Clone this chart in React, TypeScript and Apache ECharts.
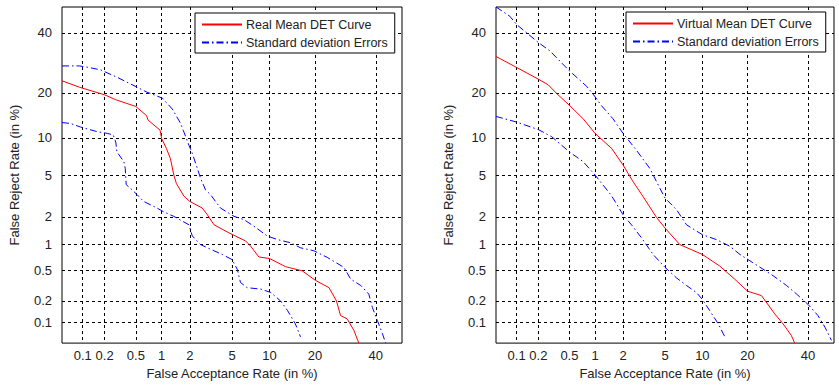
import React, { useEffect, useRef } from 'react';
import * as echarts from 'echarts';

// Tick marks (percent) and their labels, shared by both axes of both panels
const tickPercents = [0.1, 0.2, 0.5, 1, 2, 5, 10, 20, 40];
const tickLabels = ['0.1', '0.2', '0.5', '1', '2', '5', '10', '20', '40'];
const axisMinPercent = 0.05;
const axisMaxPercent = 50;

// Left panel: Real Mean DET Curve (false acceptance %, false reject %)
const realMeanFA = [0.05, 0.09, 0.2, 0.28, 0.5, 0.67, 0.7, 0.96, 1.0, 1.13, 1.25, 1.36, 1.45, 1.74, 2.0, 2.66, 2.98, 3.44, 4.7, 6.5, 7.15, 8.3, 10, 13.0, 16.7, 20.2, 24.0, 26.3, 27.6, 29.8, 32.1, 33.8];
const realMeanFR = [23.5, 21.6, 19.5, 18.2, 16.5, 14.4, 13.4, 11.4, 9.9, 8.3, 6.9, 5.0, 4.2, 3.2, 2.85, 2.45, 2.1, 1.65, 1.35, 1.1, 0.96, 0.72, 0.69, 0.55, 0.49, 0.37, 0.3, 0.2, 0.126, 0.113, 0.077, 0.05];

const realUpperFA = [0.05, 0.09, 0.122, 0.177, 0.29, 0.41, 0.52, 0.68, 0.78, 1.02, 1.31, 1.61, 1.71, 1.96, 2.12, 2.38, 2.56, 2.86, 3.2, 3.95, 5.2, 6.3, 7.6, 9.6, 11.4, 14.0, 16.3, 19.7, 23.5, 28.7, 31.0, 34.5, 37.4, 38.7, 40.6, 42.5, 43.7];
const realUpperFR = [28.2, 28.2, 27.7, 26.9, 24.6, 22.8, 21.6, 20.2, 19.7, 18.6, 15.9, 12.7, 11.4, 8.8, 7.6, 5.7, 4.7, 3.67, 3.3, 2.45, 2.02, 1.87, 1.59, 1.25, 1.14, 1.05, 0.92, 0.85, 0.71, 0.54, 0.385, 0.32, 0.247, 0.164, 0.107, 0.069, 0.05];

const realLowerFA = [0.05, 0.067, 0.093, 0.16, 0.217, 0.26, 0.28, 0.29, 0.355, 0.37, 0.38, 0.45, 0.52, 0.62, 0.89, 1.06, 1.36, 1.68, 1.96, 2.12, 2.56, 3.44, 4.1, 5.0, 5.55, 5.9, 6.7, 8.6, 10.2, 12.0, 13.4, 15.1, 16.3];
const realLowerFR = [12.9, 12.7, 12.0, 11.1, 10.8, 10.5, 9.3, 7.8, 6.5, 5.7, 4.1, 3.67, 3.3, 2.85, 2.45, 2.24, 2.02, 1.8, 1.65, 1.25, 1.0, 0.85, 0.77, 0.67, 0.51, 0.35, 0.3, 0.287, 0.26, 0.2, 0.148, 0.096, 0.062];

// Right panel: Virtual Mean DET Curve
const virtualMeanFA = [0.05, 0.1, 0.2, 0.27, 0.345, 0.505, 0.73, 1.0, 1.52, 2.0, 2.52, 3.15, 4.2, 4.98, 6.67, 10, 13.3, 16.7, 20, 24.0, 28.2, 31.0, 33.9, 35.1];
const virtualMeanFR = [31.4, 27.7, 24.0, 22.3, 19.9, 16.7, 13.7, 10.8, 8.3, 6.1, 4.37, 3.18, 1.97, 1.53, 1.0, 0.77, 0.56, 0.385, 0.27, 0.236, 0.133, 0.096, 0.065, 0.05];

const virtualUpperFA = [0.05, 0.08, 0.1, 0.2, 0.283, 0.5, 0.8, 0.95, 1.18, 1.57, 2.0, 2.72, 3.65, 4.5, 5.0, 6.26, 7.55, 10, 12.6, 15.5, 18.0, 21.5, 27.7, 32.2, 35.8, 40, 43.8, 46.5, 49.0];
const virtualUpperFR = [50, 46.4, 43.2, 36.4, 33.4, 26.6, 21.9, 19.7, 16.7, 13.7, 10.8, 8.05, 5.7, 3.8, 3.07, 2.36, 1.65, 1.29, 1.14, 0.96, 0.77, 0.615, 0.425, 0.32, 0.247, 0.18, 0.126, 0.086, 0.055];

const virtualLowerFA = [0.05, 0.1, 0.2, 0.3, 0.5, 0.73, 1.0, 1.45, 1.57, 2.0, 2.43, 3.05, 3.91, 5.0, 6.26, 7.55, 9.0, 10, 11.3, 13.0, 14.4];
const virtualLowerFR = [14.2, 13.0, 11.5, 10.2, 7.8, 6.5, 5.0, 3.4, 3.07, 2.1, 1.65, 1.19, 0.77, 0.54, 0.4, 0.32, 0.26, 0.21, 0.148, 0.096, 0.062];

// Inverse normal CDF (Acklam) for the DET (normal deviate) scale
function probit(p: number): number {
  const a = [-3.969683028665376e1, 2.209460984245205e2, -2.759285104469687e2, 1.38357751867269e2, -3.066479806614716e1, 2.506628277459239];
  const b = [-5.447609879822406e1, 1.615858368580409e2, -1.556989798598866e2, 6.680131188771972e1, -1.328068155288572e1];
  const c = [-7.784894002430293e-3, -3.223964580411365e-1, -2.400758277161838, -2.549732539343734, 4.374664141464968, 2.938163982698783];
  const d = [7.784695709041462e-3, 3.224671290700398e-1, 2.445134137142996, 3.754408661907416];
  const pLow = 0.02425;
  const pHigh = 1 - pLow;
  if (p <= 0) return -10;
  if (p >= 1) return 10;
  if (p < pLow) {
    const q = Math.sqrt(-2 * Math.log(p));
    return (((((c[0] * q + c[1]) * q + c[2]) * q + c[3]) * q + c[4]) * q + c[5]) / ((((d[0] * q + d[1]) * q + d[2]) * q + d[3]) * q + 1);
  }
  if (p <= pHigh) {
    const q = p - 0.5;
    const r = q * q;
    return ((((((a[0] * r + a[1]) * r + a[2]) * r + a[3]) * r + a[4]) * r + a[5]) * q) / (((((b[0] * r + b[1]) * r + b[2]) * r + b[3]) * r + b[4]) * r + 1);
  }
  const q = Math.sqrt(-2 * Math.log(1 - p));
  return -(((((c[0] * q + c[1]) * q + c[2]) * q + c[3]) * q + c[4]) * q + c[5]) / ((((d[0] * q + d[1]) * q + d[2]) * q + d[3]) * q + 1);
}

const toDev = (pct: number) => probit(pct / 100);
const pairs = (fa: number[], fr: number[]) => fa.map((v, i) => [toDev(v), toDev(fr[i])]);

const FONT = '"Liberation Sans", Arial, Helvetica, sans-serif';
const TEXT_COLOR = '#222';

export default function App() {
  const ref = useRef<HTMLDivElement>(null);

  useEffect(() => {
    if (!ref.current) return;
    const chart = echarts.init(ref.current, undefined, { renderer: 'svg' });
    const tickValues = tickPercents.map(toDev);
    const labelFor = (v: number) => {
      let best = 0;
      let bd = Infinity;
      tickValues.forEach((t, i) => {
        const dd = Math.abs(t - v);
        if (dd < bd) { bd = dd; best = i; }
      });
      return bd < 1e-6 ? tickLabels[best] : '';
    };
    const axisMin = toDev(axisMinPercent);
    const axisMax = toDev(axisMaxPercent);

    const makeAxis = (gridIndex: number, name: string, isY: boolean) => ({
      type: 'value',
      gridIndex,
      min: axisMin,
      max: axisMax,
      name,
      nameLocation: 'middle',
      nameGap: isY ? 41 : 20,
      nameTextStyle: { fontFamily: FONT, fontSize: 13, color: TEXT_COLOR },
      axisLine: { show: false },
      axisTick: { show: false, customValues: tickValues },
      axisLabel: {
        customValues: tickValues,
        formatter: (v: number) => labelFor(v),
        fontFamily: FONT,
        fontSize: 13,
        color: TEXT_COLOR,
        margin: isY ? 10 : 6,
      },
      splitLine: {
        show: true,
        lineStyle: { color: '#000', width: 1, type: [3, 3] },
      },
    });

    const blueStyle = { color: '#0000ff', width: 1, type: [7, 3, 1.5, 3] };
    const redStyle = { color: '#ff0000', width: 1, type: 'solid' };
    const lineSeries = (name: string, idx: number, data: number[][], style: any) => ({
      type: 'line',
      name,
      xAxisIndex: idx,
      yAxisIndex: idx,
      data,
      symbol: 'none',
      showSymbol: false,
      smooth: false,
      color: style.color,
      lineStyle: style,
      clip: true,
      silent: true,
    });

    const legendCommon = {
      orient: 'vertical',
      backgroundColor: '#fff',
      borderColor: '#000',
      borderWidth: 1,
      itemWidth: 40,
      itemHeight: 14,
      itemGap: 5,
      padding: [5, 7, 4, 6],
      itemStyle: { opacity: 0 },
      textStyle: { fontFamily: FONT, fontSize: 12.5, color: TEXT_COLOR, padding: [0, 0, 0, -1] },
      selectedMode: false,
    };

    chart.setOption({
      animation: false,
      backgroundColor: '#fff',
      grid: [
        { left: 62, top: 7, width: 340, height: 339, show: true, borderColor: '#000', borderWidth: 1, backgroundColor: '#fff' },
        { left: 496, top: 7, width: 338, height: 339, show: true, borderColor: '#000', borderWidth: 1, backgroundColor: '#fff' },
      ],
      xAxis: [
        makeAxis(0, 'False Acceptance Rate (in %)', false),
        makeAxis(1, 'False Acceptance Rate (in %)', false),
      ],
      yAxis: [
        makeAxis(0, 'False Reject Rate (in %)', true),
        makeAxis(1, 'False Reject Rate (in %)', true),
      ],
      legend: [
        { ...legendCommon, left: 195, top: 13, data: ['Real Mean DET Curve', 'Standard deviation Errors'] },
        { ...legendCommon, left: 626, top: 12, data: ['Virtual Mean DET Curve', 'Standard deviation Errors'] },
      ],
      series: [
        lineSeries('Real Mean DET Curve', 0, pairs(realMeanFA, realMeanFR), redStyle),
        lineSeries('Standard deviation Errors', 0, pairs(realUpperFA, realUpperFR), blueStyle),
        lineSeries('Standard deviation Errors', 0, pairs(realLowerFA, realLowerFR), blueStyle),
        lineSeries('Virtual Mean DET Curve', 1, pairs(virtualMeanFA, virtualMeanFR), redStyle),
        lineSeries('Standard deviation Errors', 1, pairs(virtualUpperFA, virtualUpperFR), blueStyle),
        lineSeries('Standard deviation Errors', 1, pairs(virtualLowerFA, virtualLowerFR), blueStyle),
      ],
    });

    return () => chart.dispose();
  }, []);

  return (
    <div
      ref={ref}
      style={{ position: 'fixed', left: 0, top: 0, width: 839, height: 385, background: '#fff' }}
    />
  );
}
